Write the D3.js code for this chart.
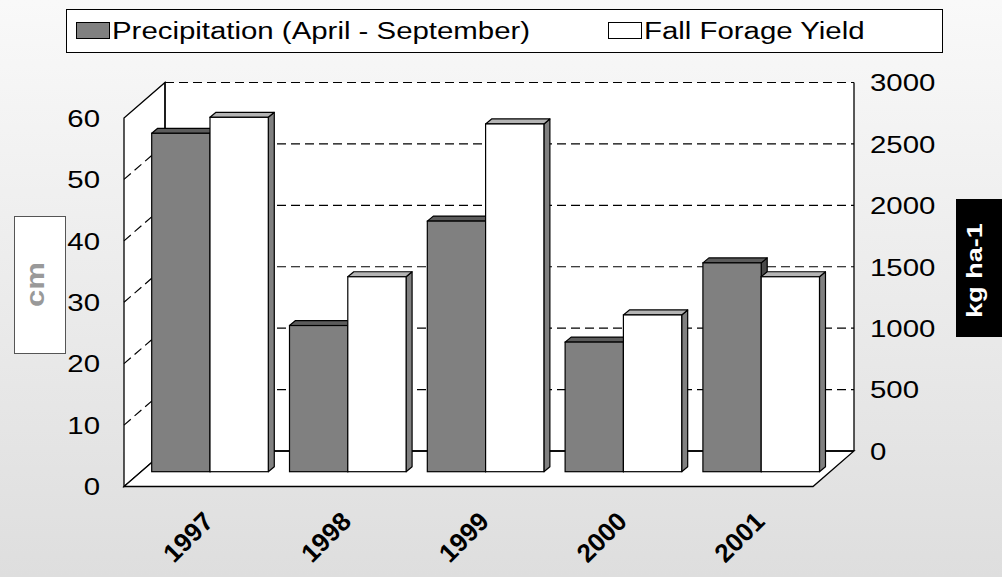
<!DOCTYPE html>
<html>
<head>
<meta charset="utf-8">
<script src="https://cdn.jsdelivr.net/npm/d3@7"></script>
<style>
  html, body { margin: 0; padding: 0; background: #fff; }
  svg { display: block; }
  text { font-family: "Liberation Sans", Arial, sans-serif; }
</style>
</head>
<body>
<svg id="chart" width="1002" height="577"></svg>
<script>
// ---------- data ----------
const years = ["1997", "1998", "1999", "2000", "2001"];
const precipitation = [55.1, 23.8, 40.8, 21.1, 34.0];      // cm
const forageYield = [2885, 1587, 2831, 1276, 1587];        // kg ha-1
const leftTicks = [0, 10, 20, 30, 40, 50, 60];
const rightTicks = [0, 500, 1000, 1500, 2000, 2500, 3000];
const seriesNames = ["Precipitation (April - September)", "Fall Forage Yield"];
const leftTitle = "cm";
const rightTitle = "kg ha-1";

// ---------- layout ----------
const W = 1002, H = 577;
const SX = 1.2; // horizontal stretch of the original picture
const front = { x: 124, y: 486.5 };        // front-left-bottom corner
const depth = { dx: 41, dy: -35.5 };        // depth vector of the box
const plotW = 689;                          // width of floor
const plotH = 368.5;                        // height of walls
const barDepthFrac = 0.417;                 // where the bars stand
const barD = { dx: 6, dy: -5 };             // bar thickness

const svg = d3.select("#chart");
const defs = svg.append("defs");
const grad = defs.append("linearGradient").attr("id", "bg")
  .attr("x1", 0).attr("y1", 0).attr("x2", 0).attr("y2", 1);
grad.append("stop").attr("offset", "0%").attr("stop-color", "#f9f9f9");
grad.append("stop").attr("offset", "100%").attr("stop-color", "#dedede");
svg.append("rect").attr("width", W).attr("height", H).attr("fill", "url(#bg)");

// scales
const yLeft = d3.scaleLinear().domain([0, 60]).range([front.y, front.y - plotH]);
const yRight = d3.scaleLinear().domain([0, 3000])
  .range([front.y + depth.dy, front.y + depth.dy - plotH]);
const backX0 = front.x + depth.dx;

const planeX0 = front.x + depth.dx * barDepthFrac;
const planeY0 = front.y + depth.dy * barDepthFrac;
const xBand = d3.scaleBand().domain(years).range([planeX0, planeX0 + plotW])
  .paddingInner(0.154).paddingOuter(0.077);
const xSub = d3.scaleBand().domain([0, 1]).range([0, xBand.bandwidth()]);
const yBarL = d3.scaleLinear().domain([0, 60]).range([planeY0, planeY0 - plotH]);
const yBarR = d3.scaleLinear().domain([0, 3000]).range([planeY0, planeY0 - plotH]);

const line = d3.line();
const poly = pts => line(pts) + "Z";

// ---------- walls ----------
const g = svg.append("g");
g.append("rect").attr("x", backX0).attr("y", yRight(3000))
  .attr("width", plotW).attr("height", plotH).attr("fill", "#fff");
g.append("path").attr("d", poly([
  [front.x, yLeft(0)], [front.x, yLeft(60)], [backX0, yRight(3000)], [backX0, yRight(0)]
])).attr("fill", "#fff").attr("stroke", "#000").attr("stroke-width", 1.3);
g.append("path").attr("d", poly([
  [front.x, front.y], [front.x + plotW, front.y],
  [backX0 + plotW, front.y + depth.dy], [backX0, front.y + depth.dy]
])).attr("fill", "#fff").attr("stroke", "#000").attr("stroke-width", 1.3);

g.selectAll("line.gridB").data(rightTicks.filter(d => d > 0 && d < 3000)).join("line")
  .attr("x1", backX0).attr("x2", backX0 + plotW)
  .attr("y1", d => yRight(d)).attr("y2", d => yRight(d))
  .attr("stroke", "#000").attr("stroke-width", 1.2).attr("stroke-dasharray", "9,5");
g.append("line").attr("x1", backX0).attr("x2", backX0 + plotW)
  .attr("y1", yRight(3000)).attr("y2", yRight(3000))
  .attr("stroke", "#000").attr("stroke-width", 1.2).attr("stroke-dasharray", "9,5");
g.selectAll("line.gridL").data(leftTicks.filter(d => d > 0 && d < 60)).join("line")
  .attr("x1", front.x).attr("x2", backX0)
  .attr("y1", d => yLeft(d)).attr("y2", d => yLeft(d) + depth.dy)
  .attr("stroke", "#000").attr("stroke-width", 1.2).attr("stroke-dasharray", "9,5");
g.append("line").attr("x1", backX0 + plotW).attr("x2", backX0 + plotW)
  .attr("y1", yRight(3000)).attr("y2", yRight(0)).attr("stroke", "#000").attr("stroke-width", 1.3);
g.append("line").attr("x1", backX0).attr("x2", backX0)
  .attr("y1", yRight(3000)).attr("y2", yRight(0)).attr("stroke", "#000").attr("stroke-width", 1.3);
g.append("line").attr("x1", backX0).attr("x2", backX0 + plotW)
  .attr("y1", yRight(0)).attr("y2", yRight(0)).attr("stroke", "#000").attr("stroke-width", 1.3);

// ---------- bars ----------
const barsG = svg.append("g");
const series = [
  { vals: precipitation, y: yBarL, front: "#808080", top: "#5c5c5c", side: "#4a4a4a" },
  { vals: forageYield, y: yBarR, front: "#ffffff", top: "#b4b4b4", side: "#808080" }
];
years.forEach((yr, i) => {
  series.forEach((s, k) => {
    const x0 = xBand(yr) + xSub(k);
    const x1 = x0 + xSub.bandwidth();
    const yt = s.y(s.vals[i]);
    const yb = s.y(0);
    const bg = barsG.append("g");
    bg.append("path").attr("d", poly([
      [x1, yb], [x1, yt], [x1 + barD.dx, yt + barD.dy], [x1 + barD.dx, yb + barD.dy]
    ])).attr("fill", s.side).attr("stroke", "#000").attr("stroke-width", 1.2).attr("stroke-linejoin", "round");
    bg.append("path").attr("d", poly([
      [x0, yt], [x1, yt], [x1 + barD.dx, yt + barD.dy], [x0 + barD.dx, yt + barD.dy]
    ])).attr("fill", s.top).attr("stroke", "#000").attr("stroke-width", 1.2).attr("stroke-linejoin", "round");
    bg.append("rect").attr("x", x0).attr("y", yt).attr("width", x1 - x0).attr("height", yb - yt)
      .attr("fill", s.front).attr("stroke", "#000").attr("stroke-width", 1.2);
  });
});

// ---------- axis labels ----------
const tickFont = 24.5;
svg.append("g").selectAll("text").data(leftTicks).join("text")
  .attr("transform", d => `translate(100,${yLeft(d)}) scale(${SX},1)`)
  .attr("text-anchor", "end").attr("dy", "0.36em")
  .attr("font-size", tickFont).attr("fill", "#000").text(d => d);
svg.append("g").selectAll("text").data(rightTicks).join("text")
  .attr("transform", d => `translate(870,${yRight(d)}) scale(${SX},1)`)
  .attr("text-anchor", "start").attr("dy", "0.36em")
  .attr("font-size", tickFont).attr("fill", "#000").text(d => d);

svg.append("g").selectAll("text").data(years).join("text")
  .attr("transform", d => `translate(${xBand(d) + xBand.bandwidth() / 2 + 5},523) rotate(-45)`)
  .attr("text-anchor", "end").attr("font-weight", "bold")
  .attr("font-size", 26).attr("fill", "#000").text(d => d);

// ---------- axis titles ----------
svg.append("rect").attr("x", 14.5).attr("y", 216.5).attr("width", 51).attr("height", 137)
  .attr("fill", "#fff").attr("stroke", "#555").attr("stroke-width", 1);
svg.append("text").attr("transform", `translate(43.5,284.5) scale(0.85,1) rotate(-90)`)
  .attr("text-anchor", "middle").attr("font-weight", "bold").attr("font-size", 31)
  .attr("fill", "#999").text(leftTitle);
svg.append("rect").attr("x", 956).attr("y", 199).attr("width", 60).attr("height", 138)
  .attr("fill", "#000");
svg.append("text").attr("transform", `translate(981.5,270.5) scale(0.8,1) rotate(-90)`)
  .attr("text-anchor", "middle").attr("font-weight", "bold").attr("font-size", 27)
  .attr("fill", "#fff").text(rightTitle);

// ---------- legend ----------
const lg = svg.append("g");
lg.append("rect").attr("x", 66.5).attr("y", 9.5).attr("width", 876).attr("height", 43)
  .attr("fill", "#fff").attr("stroke", "#000").attr("stroke-width", 1);
const legendX = [76, 608];
const legendFill = ["#808080", "#ffffff"];
seriesNames.forEach((name, i) => {
  lg.append("rect").attr("x", legendX[i] + 0.5).attr("y", 22.5).attr("width", 33).attr("height", 16)
    .attr("fill", legendFill[i]).attr("stroke", "#000").attr("stroke-width", 1);
  lg.append("text").attr("transform", `translate(${legendX[i] + 36},39.3) scale(${SX},1)`)
    .attr("font-size", 24.5).attr("fill", "#000").text(name);
});
</script>
</body>
</html>
